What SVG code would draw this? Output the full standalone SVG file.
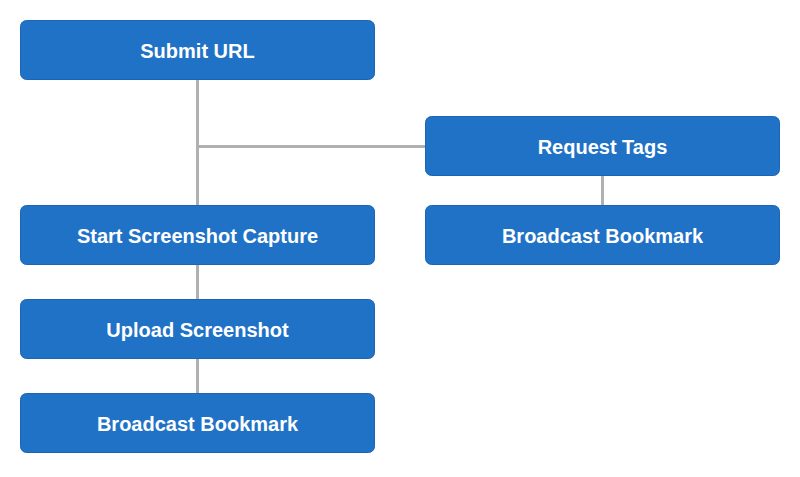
<svg xmlns="http://www.w3.org/2000/svg" width="800" height="477" viewBox="0 0 800 477">
<style>
.box{fill:#1f72c5;stroke:#1a66b5;stroke-width:1}
.lbl{font-family:"Liberation Sans",Arial,sans-serif;font-weight:bold;font-size:20px;fill:#ffffff;text-anchor:middle;dominant-baseline:central}
.con{stroke:#b0b0b0;stroke-width:3;fill:none}
</style>
<rect width="800" height="477" fill="#ffffff"/>
<g id="connectors">
<path class="con" d="M197.5 80 V205"/>
<path class="con" d="M197.5 146.5 H425.5"/>
<path class="con" d="M602.5 176 V206"/>
<path class="con" d="M197.5 265 V300"/>
<path class="con" d="M197.5 359 V394"/>
</g>
<g id="submit-url"><rect class="box" x="20.5" y="20.5" width="354" height="59" rx="6"/><text class="lbl" x="197.5" y="51">Submit URL</text></g>
<g id="request-tags"><rect class="box" x="425.5" y="116.5" width="354" height="59" rx="6"/><text class="lbl" x="602.5" y="147">Request Tags</text></g>
<g id="start-screenshot"><rect class="box" x="20.5" y="205.5" width="354" height="59" rx="6"/><text class="lbl" x="197.5" y="236">Start Screenshot Capture</text></g>
<g id="broadcast-right"><rect class="box" x="425.5" y="205.5" width="354" height="59" rx="6"/><text class="lbl" x="602.5" y="236">Broadcast Bookmark</text></g>
<g id="upload-screenshot"><rect class="box" x="20.5" y="299.5" width="354" height="59" rx="6"/><text class="lbl" x="197.5" y="330">Upload Screenshot</text></g>
<g id="broadcast-left"><rect class="box" x="20.5" y="393.5" width="354" height="59" rx="6"/><text class="lbl" x="197.5" y="424">Broadcast Bookmark</text></g>
</svg>
